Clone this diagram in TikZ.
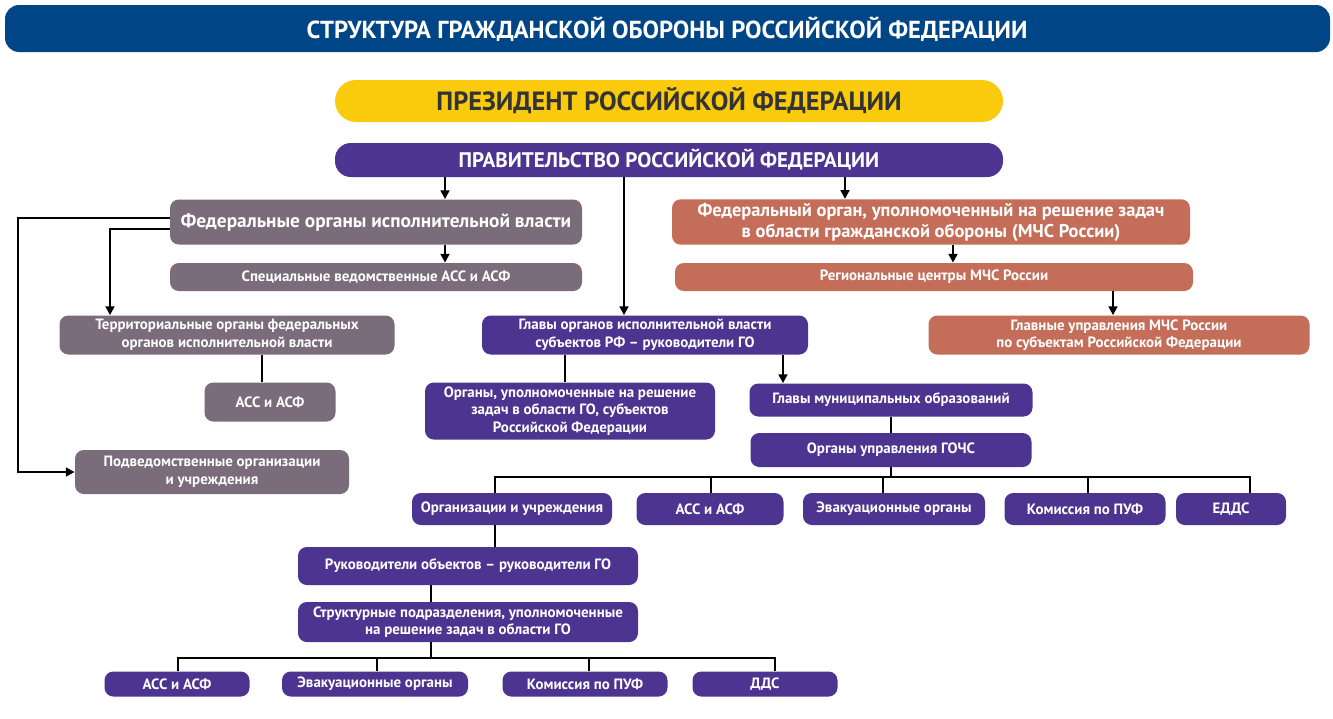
\documentclass[tikz,border=0pt]{standalone}
\usepackage{fontspec}
\setmainfont{PT Sans}
\usetikzlibrary{positioning,arrows.meta}
\definecolor{titleblue}{RGB}{0,69,133}
\definecolor{presyellow}{RGB}{250,202,12}
\definecolor{govpurple}{RGB}{77,52,144}
\definecolor{fedgrey}{RGB}{122,108,122}
\definecolor{mchscoral}{RGB}{196,110,90}
\tikzset{
    box/.style={rounded corners=5pt, draw=none, text=white, font=\bfseries\fontsize{8.5}{10}\selectfont, align=center, inner sep=2pt},
    sz/.style 2 args={minimum width=#1*0.02cm, minimum height=#2*0.02cm},
    gov/.style={box, fill=govpurple},
    fed/.style={box, fill=fedgrey},
    mchs/.style={box, fill=mchscoral},
    arr/.style={line width=1.6pt, -{Triangle[length=5pt,width=5pt]}},
    link/.style={line width=1.2pt},
}
\begin{document}
\begin{tikzpicture}[x=0.02cm, y=-0.02cm]
\useasboundingbox (0,0) rectangle (1333,718);
\fill[white] (0,0) rectangle (1333,718);

% title
\fill[titleblue, rounded corners=8pt] (5,5) rectangle (1330,52);
\node (title) at (667,29) [text=white, font=\bfseries\fontsize{14}{16}\selectfont] {СТРУКТУРА ГРАЖДАНСКОЙ ОБОРОНЫ РОССИЙСКОЙ ФЕДЕРАЦИИ};

% top
\node (pres) at (669,101) [box, sz={668}{42}, rounded corners=12pt, fill=presyellow, text=black!80, font=\bfseries\fontsize{15}{18}\selectfont] {ПРЕЗИДЕНТ РОССИЙСКОЙ ФЕДЕРАЦИИ};
\node (govt) at (669,160) [gov, sz={668}{34}, rounded corners=9pt, font=\bfseries\fontsize{12}{14}\selectfont] {ПРАВИТЕЛЬСТВО РОССИЙСКОЙ ФЕДЕРАЦИИ};

% left branch
\node (fedorg) at (376,222) [fed, sz={412}{45}, font=\bfseries\fontsize{11}{13}\selectfont] {Федеральные органы исполнительной власти};
\node (spec) at (376,277) [fed, sz={412}{28}] {Специальные ведомственные АСС и АСФ};
\node (terr) at (227,335) [fed, sz={335}{39}] {Территориальные органы федеральных\\органов исполнительной власти};
\node (ass1) at (270,402) [fed, sz={131}{39}] {АСС и АСФ};
\node (podved) at (212,472) [fed, sz={274}{44}] {Подведомственные организации\\и учреждения};

% right branch
\node (mchs) at (931,222) [mchs, sz={518}{45}, font=\bfseries\fontsize{10.5}{12}\selectfont] {Федеральный орган, уполномоченный на решение задач\\в области гражданской обороны (МЧС России)};
\node (reg) at (934,277) [mchs, sz={518}{28}] {Региональные центры МЧС России};
\node (glavupr) at (1119,335) [mchs, sz={381}{39}] {Главные управления МЧС России\\по субъектам Российской Федерации};

% middle branch
\node (glavy) at (645,335) [gov, sz={326}{39}] {Главы органов исполнительной власти\\субъектов РФ – руководители ГО};
\node (organy) at (570,411) [gov, sz={290}{57}] {Органы, уполномоченные на решение\\задач в области ГО, субъектов\\Российской Федерации};
\node (mun) at (891,400) [gov, sz={283}{33}] {Главы муниципальных образований};
\node (gochs) at (891,450) [gov, sz={281}{34}] {Органы управления ГОЧС};

\node (org) at (512,509) [gov, sz={200}{32}] {Организации и учреждения};
\node (ass2) at (710,509) [gov, sz={147}{32}] {АСС и АСФ};
\node (evak2) at (894,509) [gov, sz={182}{32}] {Эвакуационные органы};
\node (kom2) at (1085,509) [gov, sz={161}{32}] {Комиссия по ПУФ};
\node (edds) at (1231,509) [gov, sz={110}{32}] {ЕДДС};

\node (ruk) at (468,566) [gov, sz={340}{38}] {Руководители объектов – руководители ГО};
\node (struct) at (468,622) [gov, sz={340}{40}] {Структурные подразделения, уполномоченные\\на решение задач  в области ГО};

\node (ass3) at (177,684) [gov, sz={145}{25}] {АСС и АСФ};
\node (evak3) at (375,684) [gov, sz={186}{25}] {Эвакуационные органы};
\node (kom3) at (585,684) [gov, sz={165}{25}] {Комиссия по ПУФ};
\node (dds) at (765,684) [gov, sz={145}{25}] {ДДС};

% arrows from government
\draw[arr] (govt.south -| 445,0) -- (fedorg.north -| 445,0);
\draw[arr] (govt.south -| 624,0) -- (glavy.north -| 624,0);
\draw[arr] (govt.south -| 845,0) -- (mchs.north -| 845,0);

% left connectors
\draw[arr] (fedorg.south -| 445,0) -- (spec.north -| 445,0);
\draw[arr] (fedorg.west |- 0,218) -- (18,218) |- (podved.west);
\draw[arr] (fedorg.west |- 0,229) -- (110,229) -- (terr.north -| 110,0);
\draw[link] (terr.south -| 262,0) -- (ass1.north -| 262,0);

% right connectors
\draw[arr] (mchs.south -| 953,0) -- (reg.north -| 953,0);
\draw[arr] (reg.south -| 1113,0) -- (glavupr.north -| 1113,0);

% middle connectors
\draw[link] (glavy.south -| 565,0) -- (organy.north -| 565,0);
\draw[arr] (glavy.south -| 783,0) -- (mun.north -| 783,0);
\draw[link] (mun.south) -- (gochs.north);
\draw[link] (gochs.south) -- (891,477);
\draw[link] (org.north -| 495,0) -- (495,477) -- (1250,477) -- (edds.north -| 1250,0);
\foreach \n/\x in {ass2/711, evak2/883, kom2/1088}
    \draw[link] (\x,477) -- (\n.north -| \x,0);

\draw[link] (org.south -| 495,0) -- (ruk.north -| 495,0);
\draw[link] (ruk.south -| 431,0) -- (struct.north -| 431,0);
\draw[link] (struct.south -| 431,0) -- (431,658);
\draw[link] (ass3.north -| 178,0) -- (178,658) -- (775,658) -- (dds.north -| 775,0);
\foreach \n/\x in {evak3/377, kom3/589}
    \draw[link] (\x,658) -- (\n.north -| \x,0);
\end{tikzpicture}
\end{document}
